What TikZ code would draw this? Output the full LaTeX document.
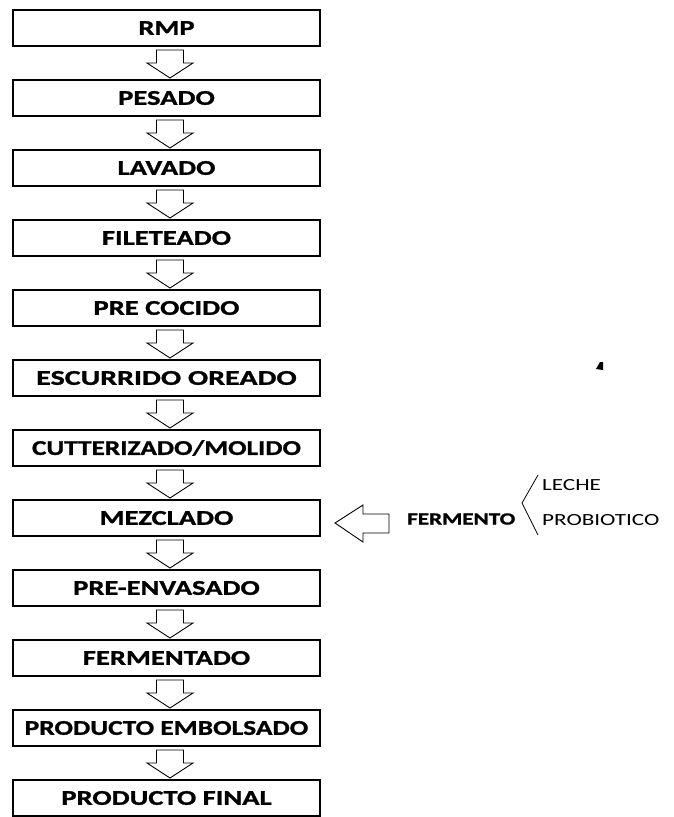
\documentclass[tikz,border=0pt]{standalone}
\usepackage{fontspec}
\setmainfont[FakeStretch=1.36,BoldFeatures={FakeBold=1.2}]{Carlito}
\usetikzlibrary{calc}
\begin{document}
\begin{tikzpicture}[x=1pt,y=-1pt,
  stepbox/.style={draw=black,line width=2pt,minimum width=307pt,minimum height=36pt,inner sep=0pt,
    font=\fontsize{21}{21}\selectfont\bfseries},
  blockarrow/.style={draw=black,line width=0.9pt,fill=white,line join=miter},
  sidelabel/.style={inner sep=0pt,anchor=west,font=\fontsize{17}{17}\selectfont},
  bracelabel/.style={draw=black,line width=0.8pt}]
\useasboundingbox (0,0) rectangle (673,817);
\node[stepbox] (b0)  at (166.5,28)  {RMP};
\node[stepbox] (b1)  at (166.5,98)  {PESADO};
\node[stepbox] (b2)  at (166.5,168) {LAVADO};
\node[stepbox] (b3)  at (166.5,238) {FILETEADO};
\node[stepbox] (b4)  at (166.5,308) {PRE COCIDO};
\node[stepbox] (b5)  at (166.5,378) {\scalebox{1.05}[1]{ESCURRIDO OREADO}};
\node[stepbox] (b6)  at (166.5,448) {\scalebox{0.955}[1]{CUTTERIZADO/MOLIDO}};
\node[stepbox] (b7)  at (166.5,518) {MEZCLADO};
\node[stepbox] (b8)  at (166.5,588) {PRE-ENVASADO};
\node[stepbox] (b9)  at (166.5,658) {FERMENTADO};
\node[stepbox] (b10) at (166.5,728) {\scalebox{0.96}[1]{PRODUCTO EMBOLSADO}};
\node[stepbox] (b11) at (166.5,798) {PRODUCTO FINAL};
\foreach \i in {0,...,10} {
  \draw[blockarrow]
    ([shift={(-10,3)}]b\i.south) -- ([shift={(17,3)}]b\i.south)
    -- ([shift={(17,16)}]b\i.south) -- ([shift={(26.5,16)}]b\i.south)
    -- ([shift={(3.5,31)}]b\i.south) -- ([shift={(-19.5,16)}]b\i.south)
    -- ([shift={(-10,16)}]b\i.south) -- cycle;
}
% side input
\draw[blockarrow]
  ([shift={(14,5)}]b7.east) -- ([shift={(42,-13)}]b7.east)
  -- ([shift={(42,-4)}]b7.east) -- ([shift={(68,-4)}]b7.east)
  -- ([shift={(68,15)}]b7.east) -- ([shift={(42,15)}]b7.east)
  -- ([shift={(42,24)}]b7.east) -- cycle;
\node[sidelabel,font=\fontsize{17}{17}\selectfont\bfseries] (ferm) at (407,519) {FERMENTO};
\coordinate (bt) at (538,475);
\coordinate (bm) at (522,503);
\coordinate (bb) at (538,535);
\draw[bracelabel] (bt) -- (bm) -- (bb);
\node[sidelabel] (leche) at (542,485) {LECHE};
\node[sidelabel] (prob) at (542,520) {PROBIOTICO};
% stray mark
\fill[black] (596,369) -- (600,362) -- (603,362) -- (603,370) -- cycle;
\end{tikzpicture}
\end{document}
